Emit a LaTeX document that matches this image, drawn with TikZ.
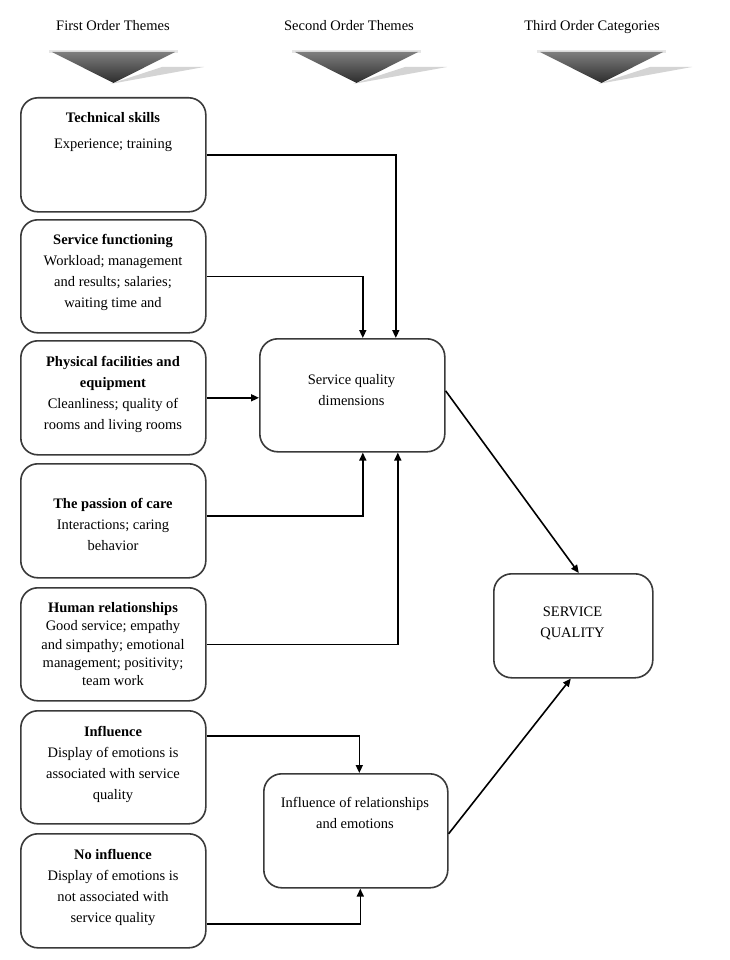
\documentclass[tikz,border=0pt]{standalone}
\usepackage{fontspec}
\setmainfont{Liberation Serif}
\usetikzlibrary{arrows.meta}
\definecolor{boxline}{HTML}{3A3A3A}
\definecolor{trtop}{HTML}{7E7E7E}
\definecolor{trbot}{HTML}{2C2C2C}
\definecolor{shadowgray}{HTML}{D4D4D4}
\definecolor{bandgray}{HTML}{E6E6E6}
\newcommand\hdrtri[1]{%
  \fill[shadowgray] (#1+58,84) -- (#1+110,67) -- (#1+152,67) -- cycle;
  \fill[bandgray] (#1-3,50) rectangle (#1+126,53.5);
  \shade[top color=trtop, bottom color=trbot] (#1,52) -- (#1+123,52) -- (#1+61.5,83) -- cycle;
}
\tikzset{
  lbox/.style={draw=boxline, line width=1.6pt, rounded corners=17pt, anchor=north west, inner sep=0pt, fill=white},
  conn/.style={draw=black, line width=1.6pt, -{Triangle[length=8pt,width=7pt]}},
  txt/.style={align=center, inner sep=0pt, anchor=north, font=\fontsize{14.5}{21}\selectfont},
  tightxt/.style={txt, font=\fontsize{14.5}{18.3}\selectfont},
}
\begin{document}
\begin{tikzpicture}[x=1pt,y=-1pt]
\useasboundingbox (0,0) rectangle (729,960);
\fill[white] (0,0) rectangle (729,960);

% headers
\node[txt] (h1) at (113,20.4) {First Order Themes};
\node[txt] (h2) at (349,20.4) {Second Order Themes};
\node[txt] (h3) at (592,20.4) {Third Order Categories};
\hdrtri{52}
\hdrtri{295}
\hdrtri{540}

% first order boxes
\node[lbox, minimum width=185pt, minimum height=114pt] (b1) at (20,97) {};
\node[lbox, minimum width=185pt, minimum height=113pt] (b2) at (20,219) {};
\node[lbox, minimum width=185pt, minimum height=114pt] (b3) at (20,340) {};
\node[lbox, minimum width=185pt, minimum height=114pt] (b4) at (20,463) {};
\node[lbox, minimum width=185pt, minimum height=113pt] (b5) at (20,587) {};
\node[lbox, minimum width=185pt, minimum height=113pt] (b6) at (20,710) {};
\node[lbox, minimum width=185pt, minimum height=114pt] (b7) at (20,833) {};

\node[txt] (t1) at (113,112.4) {\textbf{Technical skills}\\[5pt]Experience; training};
\node[txt] (t2) at (113,234.4) {\textbf{Service functioning}\\Workload; management\\and results; salaries;\\waiting time and};
\node[txt] (t3) at (113,356.4) {\textbf{Physical facilities and}\\\textbf{equipment}\\Cleanliness; quality of\\rooms and living rooms};
\node[txt] (t4) at (113,498.4) {\textbf{The passion of care}\\Interactions; caring\\behavior};
\node[tightxt] (t5) at (113,602.4) {\textbf{Human relationships}\\Good service; empathy\\and simpathy; emotional\\management; positivity;\\team work};
\node[txt] (t6) at (113,726.4) {\textbf{Influence}\\Display of emotions is\\associated with service\\quality};
\node[txt] (t7) at (113,849.4) {\textbf{No influence}\\Display of emotions is\\not associated with\\service quality};

% second / third order boxes
\node[lbox, minimum width=185pt, minimum height=113pt, rounded corners=18pt] (sqd) at (259,338) {};
\node[lbox, minimum width=184pt, minimum height=114pt, rounded corners=18pt] (ire) at (263,773) {};
\node[lbox, minimum width=159pt, minimum height=104pt, rounded corners=18pt] (sq) at (493,573) {};

\node[txt] (tsqd) at (351.5,374.4) {Service quality\\dimensions};
\node[txt] (tire) at (355,797.4) {Influence of relationships\\and emotions};
\node[txt] (tsq) at (572.5,606.4) {SERVICE\\QUALITY};

% connectors
\draw[conn] (b1.east) -| ([xshift=43.5pt]sqd.north);
\draw[conn] (b2.east) -| ([xshift=10.5pt]sqd.north);
\draw[conn] (b3.east) -- (b3.east -| sqd.west);
\draw[conn] ([yshift=5pt]b4.east) -| ([xshift=10.5pt]sqd.south);
\draw[conn] (b5.east) -| ([xshift=45.5pt]sqd.south);
\draw[conn] ([yshift=31.5pt]b6.east) -| ([xshift=3.5pt]ire.north);
\draw[conn] ([yshift=-33pt]b7.east) -| ([xshift=4.5pt]ire.south);
\draw[conn] ([yshift=4.5pt]sqd.east) -- ([xshift=5.5pt]sq.north);
\draw[conn] ([yshift=-3pt]ire.east) -- ([xshift=-2.5pt]sq.south);
\end{tikzpicture}
\end{document}
